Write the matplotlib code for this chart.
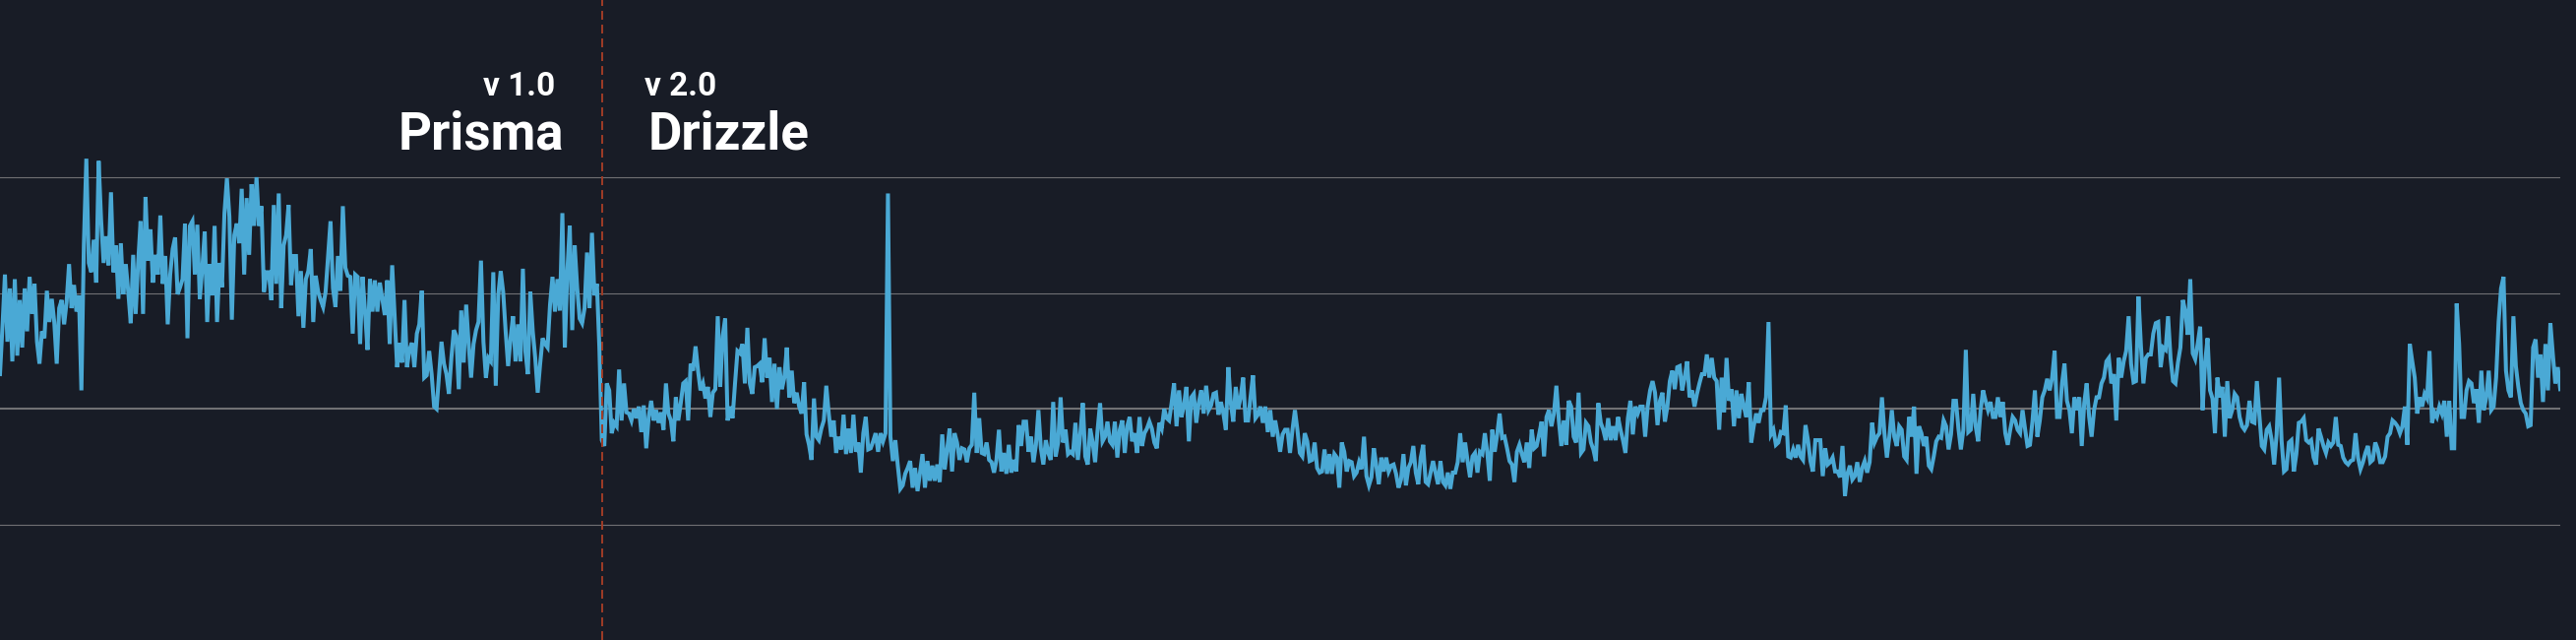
import numpy as np
import matplotlib
matplotlib.use("Agg")
import matplotlib.pyplot as plt

# ---------------- data (arbitrary units, grid lines at 0/100/200/300) ----------------
prisma_a = [130,171,216,158,204,141,212,146,194,153,204,167,214,182,208,158,139,167,161,202,
            175,195,175,139,187,194,173,192,225,187,207,184,198,116,242,316,226,218,246,209,
            314,263,226,249,224,287,218,241,195,243,199,225,201,174,233,182,226,262,182,283,
            228,255,209,233,216,267,208,232,173,216,238,248,199,205,212,260,161,258,262,216,
            259,195,221,253,175,225,198,258,175,226,205,269,299,266,177,250,260,243,290,216,
            282,233,294,258,300,258,275,201,218,218,194,276,208,286,187,241,250,276,207,232,
            232,180,219,170,212,219,238,175,215,201,194,188,201,232,262,204,188,232,202,275,
            222,215,214,165,216,214,156,214,184,151,212,184,211,184,209,195,181,211,156,224,
            180,136,157,140,194,136,151,157,136,165,173,202,127,129,150,130,102]
prisma_b = [100,129,158,139,130,113,144,168,163,117,185,140,190,156,127,156,168,175,228,158,
            127,144,141,218,120,198,219,201,167,137,161,180,141,173,141,221,150,130,201,167,
            144,114,139,161,156,153,190,214,184,212,185,269,153,218,258,168,241,205,178,174,
            187,235,187,252,198,208,153]

drizzle_a = [73,68,122,116,79,88,85,134,90,122,97,96,90,100,92,102,80,103,66,93,
             107,90,99,88,97,82,122,96,90,72,110,90,105,122,124,90,139,133,154,133,
             116,122,109,119,93,114,117,180,119,163,178,90,102,92,122,150,148,156,122,170,
             122,113,136,137,139,123,161,127,144,106,139,100,136,117,127,153,110,133,105,114,
             102,96,123,78,69,56,109,76,73,83,90,120,96,76,90,62,76,65,95,61,
             83,62,95]
drizzle_b = [63,71,45,79,93,65,66,72,79,63,79,72,79,286,76,55,73,51,31,34,
             44,49,55,32,49,29,45,61,32,55,38,51,38,52,37,78,48,65,83,46,
             79,71,56,66,65,54,66,69,114,62,92,62,61,71,56,54,45,56,82,46,
             62,44,69,45,56,46,86,68,89,89,63,76,54,69,99,66,52,73,62,56,
             106,59,71,110,71,82,61,63,61,88,56,79,105,59,52,83,71,54,82,105,
             72,76,89,72,69,89,58,82,90,62,85,93,72,79,62,93,68,79,83,89,
             83,71,66,88,83,100,92,90,105,122,85,116,93,103,119,72,110,113,88,105,
             116,96,120,99,103,113,114,95,106,96,82,136,105,89,119,100,110,127,90,90,
             110,129,92,95,102,88,102,80,99,76,90]
drizzle_c = [78,63,78,82,82,62,82,99,82,62,59,79,72,55,56,71,49,45,46,65,
             44,61,44,61,58,32,71,63,46,55,54,42,45,54,48,76,42,34,41,66,
             51,35,58,46,58,46,51,52,44,32,39,61,34,49,54,68,45,35,58,69,
             37,35,45,55,45,35,55,37,34,45,31,45,45,54,79,54,71,55,41,59,
             62,45,63,61,79,62,38,82,63,78,96,75,76,66,55,52,37,63,69,61,
             54,71,49,82,66,68,78,89,59,93,99,85,96,120,90,68,90,69,107,102,
             76,71,114,62,65,88,85,71,65,55,105,88,82,73,92,73,85,73,93,82,
             73,62,92,107,78,102,96,102,102,76,102,116,124,114,86,107,114,89,102,124,
             133,117,136,137,116,127,141,110,116,102,113,122]
drizzle_d = [130,130,147,127,144,127,124,82,127,97,144,107,117,85,116,92,113,102,93,123,
             71,85,96,88,99,99,110,175,78,82,69,71,80,79,103,59,58,65,58,69,
             59,56,86,73,55,46,73,73,73,42,66,52,54,58,46,46,41,68,25,44,
             51,39,42,54,37,49,55,45,54,88,71,76,79,110,79,58,76,99,76,68,
             85,82,59,56,93,76,102,44,85,79,68,76,51,48,59,72,76,75,90,85,
             65,78,107,107,83,65,82,151,80,82,113,85,72,99,116,107,99,106,93,93,
             110,93,106,79,69,82,93,90,82,79,99,83,68,69,89,116,76,90,110,116,
             126,116,127,150,93,93,122,139,107,99,79,110,99,110,68,105,122,93,76,99,
             110,110,122,127,141,144,122,130,90,144,127,141]
drizzle_e = [150,180,139,123,124,197,154,122,144,147,147,165,174,175,136,153,151,180,144,124,
             122,140,153,194,184,164,212,148,143,156,171,99,140,161,116,109,79,127,110,119,
             76,124,92,99,113,110,93,85,82,86,107,89,88,124,95,68,65,82,85,73,
             52,78,127,73,46,48,71,73,46,61,88,89,92,73,71,73,58,52,83,76,
             68,62,71,68,71,93,69,68,58,54,52,55,56,79,58,48,54,62,68,54,
             56,71,65,54,54,59,76,79,90,88,85,79,85,102,69,156,141,127,96,110,
             102,113,109,150,88,97,93,102,96,107,76,107,66,66,191,156,93,93,116,124,
             122,105,117,88,133,99,110,133,99,102,127,175,204,214,133,116,110,180,137,119,
             105,99,96,85,86,153,160,127,147,106,156,116,174,147,122,136,117]

grid_values = [0, 100, 200, 300]
grid_widths = [0.8, 1.5, 0.8, 0.8]
old_version = ("v 1.0", "Prisma")
new_version = ("v 2.0", "Drizzle")

prisma = prisma_a + prisma_b
drizzle = drizzle_a + drizzle_b + drizzle_c + drizzle_d + drizzle_e
series = np.array(prisma + drizzle, dtype=float)
idx = np.arange(len(series))
release_at = len(prisma)

# ---------------- style ----------------
BG = "#181c26"
LINE = "#4aa9d5"
GRID = "#707073"
RED = "#a03c26"
FONT = ["Roboto", "Inter", "DejaVu Sans"]

W, H = 2618, 650
fig = plt.figure(figsize=(W / 100, H / 100), dpi=100, facecolor=BG)
ax = fig.add_axes([0, 0, 2602 / W, 1])
ax.set_facecolor(BG)
ax.set_axis_off()

for gv, gw in zip(grid_values, grid_widths):
    ax.axhline(gv, color=GRID, lw=gw, zorder=1)

ax.plot(idx, series, color=LINE, lw=2.9, solid_joinstyle="miter", zorder=2)
ax.axvline(release_at, color=RED, lw=1.4, dashes=(4.6, 2.6), zorder=3)

ax.set_xlim(0, len(series) - 1)
ax.set_ylim(-99.5, 453)

def px(x, y):
    return x / W, 1 - y / H

fig.text(*px(564, 97), old_version[0], ha="right", va="baseline", color="white",
         fontsize=24, fontweight="bold", family=FONT)
fig.text(*px(573, 152), old_version[1], ha="right", va="baseline", color="white",
         fontsize=38, fontweight="bold", family=FONT)
fig.text(*px(655, 97), new_version[0], ha="left", va="baseline", color="white",
         fontsize=24, fontweight="bold", family=FONT)
fig.text(*px(659, 152), new_version[1], ha="left", va="baseline", color="white",
         fontsize=38, fontweight="bold", family=FONT)

fig.savefig("out.png", dpi=100, facecolor=BG)
